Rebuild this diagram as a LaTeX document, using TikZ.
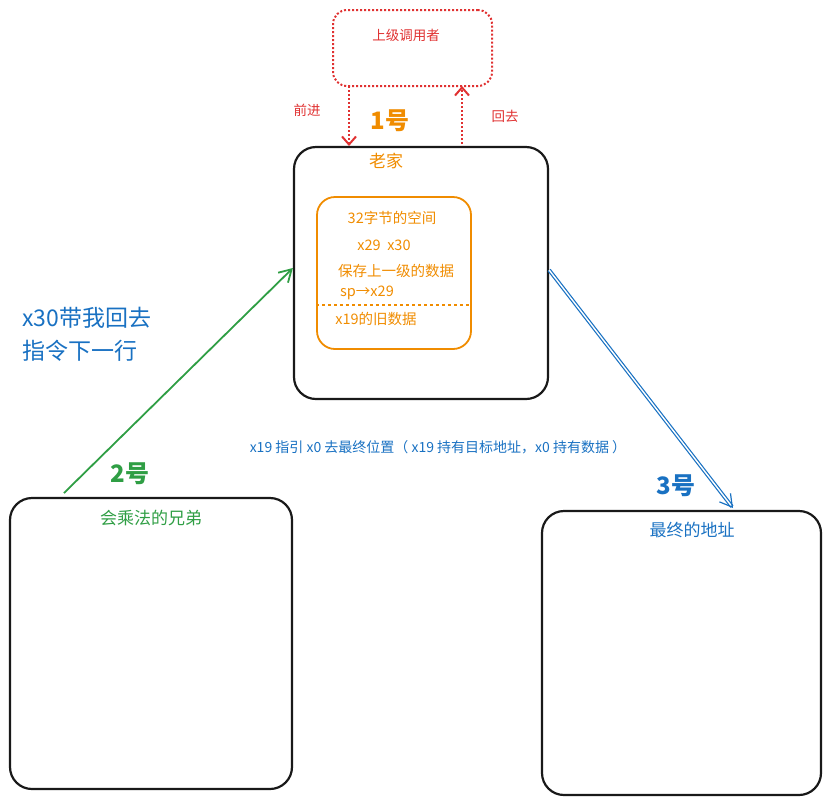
\documentclass[tikz,border=0pt]{standalone}
\usepackage{fontspec}
\setmainfont{Noto Sans CJK SC}
\usetikzlibrary{arrows.meta}
\definecolor{cred}{HTML}{E03131}
\definecolor{corange}{HTML}{F08C00}
\definecolor{cgreen}{HTML}{2F9E44}
\definecolor{cblue}{HTML}{1971C2}
\tikzset{
 blk/.style={draw=black!90,line width=2.2pt,rounded corners=22pt},
 t/.style={inner sep=0pt,font=\fontsize{13.5}{15}\selectfont},
}
\begin{document}
\begin{tikzpicture}[x=1pt,y=-1pt]
\useasboundingbox (0,0) rectangle (829,804);
\node[draw=cred,dotted,line width=2pt,rounded corners=14pt,minimum width=159pt,minimum height=76pt] (caller) at (412.5,48) {};
\node[t,text=cred] at (406,35) {上级调用者};
\coordinate (c1) at (349,86); \coordinate (h1) at (349,146);
\coordinate (c2) at (462,86); \coordinate (h2) at (462,148);
\draw[cred,dotted,line width=2pt,-{Straight Barb[length=8pt,width=14pt]}] (c1) -- (h1);
\draw[cred,dotted,line width=2pt,-{Straight Barb[length=8pt,width=14pt]}] (h2) -- (c2);
\node[t,text=cred] (fw) at (307,110) {前进};
\node[t,text=cred] (bk) at (505,116) {回去};
\node[inner sep=0pt,text=corange,font=\fontsize{24}{26}\selectfont\bfseries] (n1) at (390,121) {1号};
\node[blk,minimum width=254pt,minimum height=252pt] (home) at (421,273) {};
\node[inner sep=0pt,text=corange,font=\fontsize{17}{19}\selectfont] at (386,161) {老家};
\node[draw=corange,line width=1.8pt,rounded corners=18pt,minimum width=154pt,minimum height=152pt] (inner) at (394,273) {};
\node[t,text=corange,font=\fontsize{14.5}{16}\selectfont] at (392,218) {32字节的空间};
\node[t,text=corange,font=\fontsize{14.5}{16}\selectfont] at (384,245) {x29\ \ x30};
\node[t,text=corange,font=\fontsize{14.5}{16}\selectfont] at (396,271) {保存上一级的数据};
\node[t,text=corange,font=\fontsize{14.5}{16}\selectfont] at (367,293) {sp→x29};
\draw[corange,dashed,line width=1.5pt] (inner.west |- 0,305) -- (inner.east |- 0,305);
\node[t,text=corange,font=\fontsize{14.5}{16}\selectfont] at (376,319) {x19的旧数据};
\node[blk,minimum width=282pt,minimum height=291pt] (bro) at (151,643.5) {};
\node[t,text=cgreen,font=\fontsize{17}{19}\selectfont] at (151,518) {会乘法的兄弟};
\node[blk,minimum width=279pt,minimum height=284pt] (dst) at (681.5,653) {};
\node[t,text=cblue,font=\fontsize{17}{19}\selectfont] at (692,530) {最终的地址};
\coordinate (gs) at (64,493);
\draw[cgreen,line width=1.8pt,-{Straight Barb[length=12pt,width=14pt]}] (gs) -- (home.west |- 0,268);
\node[inner sep=0pt,text=cgreen,font=\fontsize{24}{26}\selectfont\bfseries] at (130,474) {2号};
\node[inner sep=0pt,text=cblue,font=\fontsize{23}{33}\selectfont,align=left,anchor=west] at (22,334) {x30带我回去\\指令下一行};
\node[t,text=cblue,font=\fontsize{14}{16}\selectfont] at (438,447) {x19 指引 x0 去最终位置（ x19 持有目标地址，x0 持有数据 ）};
\coordinate (be) at (733,508);
\draw[cblue,double,double distance=1.4pt,line width=1.2pt,-{Straight Barb[length=12pt,width=14pt]}] (home.east |- 0,270) -- (be);
\node[inner sep=0pt,text=cblue,font=\fontsize{24}{26}\selectfont\bfseries] at (676,486) {3号};
\end{tikzpicture}
\end{document}
